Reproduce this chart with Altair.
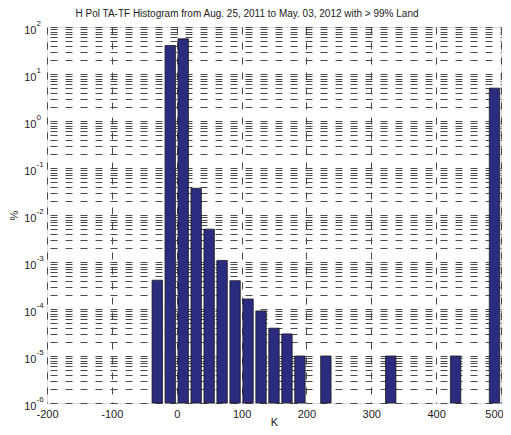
import altair as alt
import pandas as pd

# ---- data ----
centers = [-30, -10, 10, 30, 50, 70, 90, 110, 130, 150, 170, 190, 230, 330, 430, 490]
percent = [4.1e-4, 40.5, 56.0, 0.037, 5.0e-3, 1.08e-3, 4.0e-4, 1.63e-4, 9.1e-5,
           3.9e-5, 2.95e-5, 1.0e-5, 1.0e-5, 1.0e-5, 1.0e-5, 5.0]
bin_width = 20
bar_fraction = 0.8
x_ticks = [-200, -100, 0, 100, 200, 300, 400, 500]
decades = [-6, -5, -4, -3, -2, -1, 0, 1, 2]
y_min, y_max = 1e-6, 1e2

title_text = "H Pol TA-TF Histogram from Aug. 25, 2011 to May. 03, 2012 with > 99% Land"

half = bin_width * bar_fraction / 2
bars_df = pd.DataFrame({
    "center": centers,
    "pct": percent,
})
bars_df["lo"] = bars_df["center"] - half
bars_df["hi"] = bars_df["center"] + half
bars_df["base"] = y_min

y_grid = []
for d in decades[:-1]:
    for k in range(1, 10):
        y_grid.append(k * 10.0 ** d)
y_grid.append(10.0 ** decades[-1])

exp_df = pd.DataFrame({"v": [10.0 ** d for d in decades], "e": [str(d) for d in decades]})

FONT = "Liberation Sans"
W, H = 454, 376
TXT = "#222222"

xscale = alt.Scale(domain=[-200, 500], nice=False, zero=False)
yscale = alt.Scale(type="log", domain=[y_min, y_max], nice=False)

grid_color = "#4a4a4a"
dash = [7, 8]

y_axis = alt.Axis(values=y_grid, grid=True, gridDash=dash, gridDashOffset=12,
                  gridColor=grid_color, gridWidth=1, ticks=False, domain=False,
                  labelFont=FONT, labelFontSize=11, labelColor=TXT, labelPadding=11,
                  labelOffset=3, labelBaseline="middle", labelFlush=False,
                  labelOverlap=False,
                  labelExpr="abs(log(datum.value)/LN10 - round(log(datum.value)/LN10)) < 0.001 ? '10' : ''",
                  titleFont=FONT, titleFontSize=11, titleFontWeight="normal",
                  titleColor=TXT, titleX=-33, titleY=188, titleAngle=-90,
                  titleBaseline="middle")

x_axis = alt.Axis(values=x_ticks, grid=True, gridDash=dash, gridColor=grid_color,
                  gridWidth=1, ticks=False, domain=False, labelFont=FONT,
                  labelFontSize=11, labelColor=TXT, labelPadding=5,
                  labelExpr="datum.value < 0 ? '-' + abs(datum.value) : '' + datum.value",
                  labelOffset={"condition": {"test": "datum.value == 500", "value": -7}, "value": 0},
                  titleFont=FONT, titleFontSize=11, titleFontWeight="normal",
                  titleColor=TXT, titleY=19, titleBaseline="middle",
                  labelFlush=False)

bars = alt.Chart(bars_df).mark_bar(
    fill="#2b2b7f", stroke="#1a1a1a", strokeWidth=0.8
).encode(
    x=alt.X("lo:Q", scale=xscale, title="K", axis=x_axis),
    x2="hi:Q",
    y=alt.Y("pct:Q", scale=yscale, title="%", axis=y_axis),
    y2="base:Q",
)

exps = alt.Chart(exp_df).mark_text(
    align="left", baseline="middle", font=FONT, fontSize=8, color=TXT, dy=-3
).encode(
    x=alt.value(-10.5),
    y=alt.Y("v:Q", scale=yscale),
    text="e:N",
)

title_df = pd.DataFrame({"t": [title_text]})
title = alt.Chart(title_df).mark_text(
    align="center", baseline="alphabetic", font=FONT, fontSize=10, color=TXT
).encode(
    x=alt.value(W / 2 - 27),
    y=alt.value(-10),
    text="t:N",
)

chart = alt.layer(bars, exps, title).properties(
    width=W, height=H,
    autosize=alt.AutoSizeParams(type="none"),
    padding={"left": 39, "top": 19, "right": 2, "bottom": 24},
).configure_view(stroke="#000000", strokeWidth=1).configure(background="white")

chart.save("out.html", embed_options={"renderer": "svg", "actions": False})
